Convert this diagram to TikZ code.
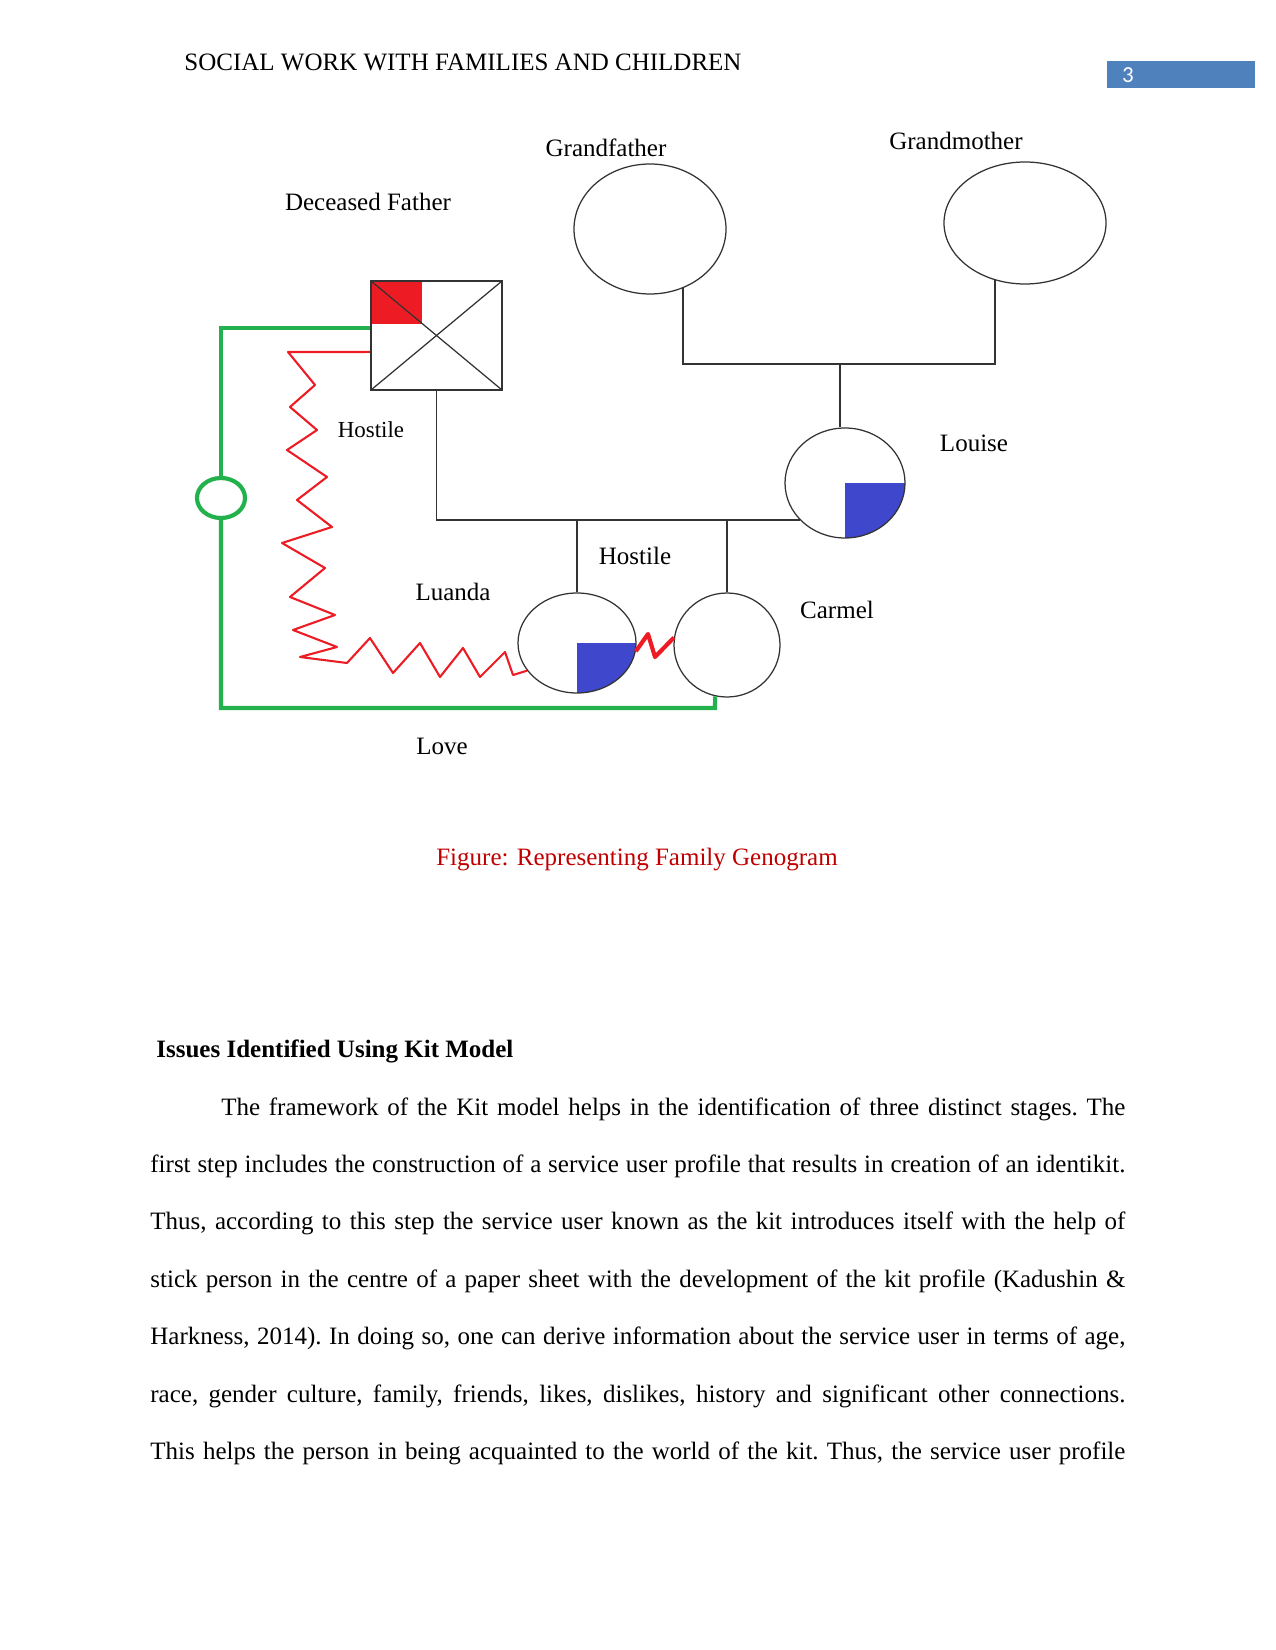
\documentclass[tikz,border=0pt]{standalone}
\usepackage{fontspec}
\setmainfont{Liberation Serif}
\newfontfamily\numfont{Carlito}
\usetikzlibrary{shapes.geometric}

\newdimen\gpx \gpx=0.48pt
\definecolor{paintred}{RGB}{237,28,36}
\definecolor{paintgreen}{RGB}{34,177,76}
\definecolor{quarterblue}{RGB}{63,72,204}
\definecolor{headblue}{RGB}{79,129,189}
\definecolor{captionred}{RGB}{192,0,0}

\begin{document}
\begin{tikzpicture}[
    x=0.48pt, y=-0.48pt,
    person/.style={ellipse, draw=black!80, line width=0.6pt, inner sep=0pt},
    male/.style={rectangle, draw=black!80, line width=1pt, inner sep=0pt},
    tie/.style={draw=black!80, line width=0.9pt},
    love/.style={draw=paintgreen, line width=2pt},
    hostile/.style={draw=paintred, line width=1pt, line join=round},
    hostilebold/.style={draw=paintred, line width=2pt, line join=round},
    lbl/.style={font=\fontsize{12}{14}\selectfont, inner sep=0pt},
    bluequarter/.style={path picture={\fill[quarterblue] (path picture bounding box.center) rectangle (path picture bounding box.south east);}}
]
\useasboundingbox[fill=white] (0,0) rectangle (1275,1650);

% --- page header ---
\node[lbl, anchor=base west] (head) at (184,71) {SOCIAL WORK WITH FAMILIES AND CHILDREN};
\node[fill=headblue, minimum width=148\gpx, minimum height=27\gpx, inner sep=0pt] (pagebox) at (1181,74.5) {};
\node[font=\numfont\fontsize{11}{13}\selectfont, text=white, inner sep=0pt] (pagenum) at (1128,75) {3};

% --- grandparents ---
\node[person, minimum width=152\gpx, minimum height=130\gpx] (gf) at (650,229) {};
\node[person, minimum width=162\gpx, minimum height=122\gpx] (gm) at (1025,223) {};
\node[lbl] (gflbl) at (606,148) {Grandfather};
\node[lbl] (gmlbl) at (956,141) {Grandmother};
\coordinate (gbar) at (840,364);
\draw[tie] (gf.-61) |- (gbar) -| (gm.-118);

% --- parents ---
\node[male, minimum width=131\gpx, minimum height=109\gpx,
    path picture={
        \fill[paintred] (path picture bounding box.north west) rectangle ++(51,43);
        \draw[black!80, line width=0.6pt] (path picture bounding box.north west) -- (path picture bounding box.south east);
        \draw[black!80, line width=0.6pt] (path picture bounding box.north east) -- (path picture bounding box.south west);
    }] (dad) at (436.5,335.5) {};
\node[lbl] (dadlbl) at (368,202) {Deceased Father};
\node[person, bluequarter, minimum width=120\gpx, minimum height=110\gpx] (lou) at (845,483) {};
\node[lbl] (loulbl) at (974,443) {Louise};
\draw[tie] (gbar) -- (gbar |- lou.north);
\draw[tie] (dad.south) |- (lou.-141);

% --- children ---
\node[person, bluequarter, minimum width=118\gpx, minimum height=100\gpx] (lua) at (577,643) {};
\node[person, minimum width=106\gpx, minimum height=104\gpx] (car) at (727,645) {};
\node[lbl] (lualbl) at (453,592) {Luanda};
\node[lbl] (carlbl) at (837,610) {Carmel};
\draw[tie] (lua.north) -- (lua.north |- lou.-141);
\draw[tie] (car.north) -- (car.north |- lou.-141);

% --- relationships ---
\node[ellipse, draw=paintgreen, line width=2pt, minimum width=48\gpx, minimum height=40\gpx, inner sep=0pt] (ring) at (221,498) {};
\coordinate (lovecorner) at (715,708);
\draw[love] ([yshift=3.6pt]dad.west) -| (ring.north);
\draw[love] (ring.south) |- (lovecorner) -- (car.-103);
\node[lbl] (lovelbl) at (442,746) {Love};

\coordinate (hoststart) at (288,352);
\draw[hostile] ([yshift=-7.9pt]dad.west) -- (hoststart)
    -- (315,385) -- (290,407) -- (317,430) -- (287,450) -- (327,477)
    -- (297,500) -- (332,527) -- (282,543) -- (325,568) -- (290,597)
    -- (335,615) -- (293,630) -- (337,647) -- (300,657) -- (347,663)
    -- (370,638) -- (393,673) -- (420,643) -- (440,677) -- (463,648)
    -- (480,677) -- (505,652) -- (513,675) -- (lua.-151);
\node[lbl, font=\fontsize{11}{13}\selectfont] (hostlbla) at (371,430) {Hostile};

\draw[hostilebold] (lua.-8) -- (648,634) -- (655,657) -- (car.172);
\node[lbl] (hostlblb) at (635,556) {Hostile};

% --- caption and text ---
\node[lbl, text=captionred] (caption) at (637,860) {Figure: Representing Family Genogram};
\node[lbl, anchor=base west, font=\fontsize{12}{14}\selectfont\bfseries] (issues) at (156,1057) {Issues Identified Using Kit Model};
\node[anchor=north west, inner sep=0pt, text width=468pt, align=justify,
    font=\fontsize{12}{27.55}\selectfont\frenchspacing] (para) at (150,1097)
    {\hyphenpenalty=10000\hspace*{34pt}The framework of the Kit model helps in the identification of three distinct stages. The\linebreak
    first step includes the construction of a service user profile that results in creation of an identikit.\linebreak
    Thus, according to this step the service user known as the kit introduces itself with the help of\linebreak
    stick person in the centre of a paper sheet with the development of the kit profile (Kadushin \&\linebreak
    Harkness, 2014). In doing so, one can derive information about the service user in terms of age,\linebreak
    race, gender culture, family, friends, likes, dislikes, history and significant other connections.\linebreak
    This helps the person in being acquainted to the world of the kit. Thus, the service user profile\unskip\parfillskip=0pt\par};

\end{tikzpicture}
\end{document}
